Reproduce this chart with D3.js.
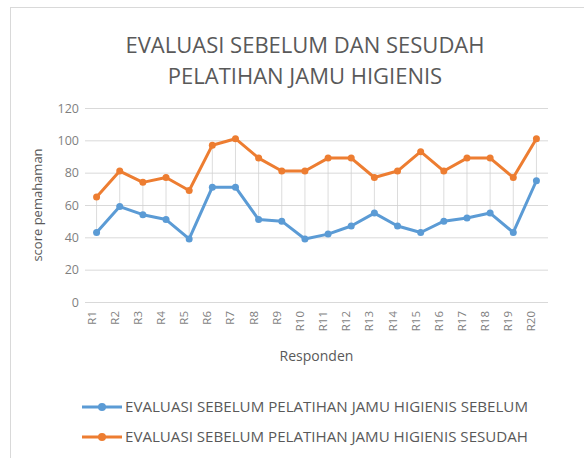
<!DOCTYPE html>
<html>
<head>
<meta charset="utf-8">
<script src="https://cdn.jsdelivr.net/npm/d3@7"></script>
<style>
  body { margin: 0; background: #fff; }
  svg text { font-family: "Open Sans", "Liberation Sans", sans-serif; fill: #595959; }
</style>
</head>
<body>
<div id="chart"></div>
<script>
// data
const categories = ['R1','R2','R3','R4','R5','R6','R7','R8','R9','R10',
                    'R11','R12','R13','R14','R15','R16','R17','R18','R19','R20'];
const sebelum = [43, 59, 54, 51, 39, 71, 71, 51, 50, 39, 42, 47, 55, 47, 43, 50, 52, 55, 43, 75];
const sesudah = [65, 81, 74, 77, 69, 97, 101, 89, 81, 81, 89, 89, 77, 81, 93, 81, 89, 89, 77, 101];
const yTicks = [0, 20, 40, 60, 80, 100, 120];
const seriesNames = [
  'EVALUASI SEBELUM PELATIHAN JAMU HIGIENIS SEBELUM',
  'EVALUASI SEBELUM PELATIHAN JAMU HIGIENIS SESUDAH'
];

const W = 584, H = 458;
const margin = { top: 108, right: 36, bottom: 156, left: 85 };
const width = W - margin.left - margin.right;
const height = H - margin.top - margin.bottom;
const colors = ['#5b9bd5', '#ed7d31'];

const svg = d3.select('#chart').append('svg')
  .attr('width', W)
  .attr('height', H);

// chart area border (right/bottom edges are cropped in the reference)
svg.append('rect')
  .attr('x', 10.5).attr('y', 7.5)
  .attr('width', 700).attr('height', 600)
  .attr('fill', 'none')
  .attr('stroke', '#d9d9d9');

// title
svg.append('text')
  .attr('x', 305).attr('y', 53)
  .attr('text-anchor', 'middle')
  .style('font-size', '22px')
  .text('EVALUASI SEBELUM DAN SESUDAH');
svg.append('text')
  .attr('x', 305).attr('y', 84)
  .attr('text-anchor', 'middle')
  .style('font-size', '22px')
  .text('PELATIHAN JAMU HIGIENIS');

const g = svg.append('g')
  .attr('transform', `translate(${margin.left},${margin.top})`);

const x = d3.scaleBand()
  .domain(categories)
  .range([0, width]);

const y = d3.scaleLinear()
  .domain([0, 120])
  .range([height, 0]);

// gridlines
g.append('g')
  .attr('class', 'grid')
  .call(d3.axisLeft(y).tickValues(yTicks).tickSize(-width).tickFormat(''))
  .call(s => s.select('.domain').remove())
  .call(s => s.selectAll('line').attr('stroke', '#d9d9d9'));

// y axis labels
g.append('g')
  .attr('class', 'y-axis')
  .call(d3.axisLeft(y).tickValues(yTicks).tickSize(0).tickPadding(6))
  .call(s => s.select('.domain').remove())
  .call(s => s.selectAll('text').style('font-size', '12.5px').style('fill', '#7f7f7f'));

// x axis labels (rotated)
g.append('g')
  .attr('class', 'x-axis')
  .attr('transform', `translate(0,${height})`)
  .call(d3.axisBottom(x).tickSize(0))
  .call(s => s.select('.domain').remove())
  .call(s => s.selectAll('text')
    .attr('transform', 'rotate(-90)')
    .attr('text-anchor', 'end')
    .attr('dx', '-9px')
    .attr('dy', '-0.35em')
    .style('font-size', '11.5px')
    .style('fill', '#7f7f7f'));

// axis titles
g.append('text')
  .attr('transform', 'rotate(-90)')
  .attr('x', -height / 2)
  .attr('y', -margin.left + 42)
  .attr('text-anchor', 'middle')
  .style('font-size', '13px')
  .text('score pemahaman');

g.append('text')
  .attr('x', width / 2)
  .attr('y', height + 59)
  .attr('text-anchor', 'middle')
  .style('font-size', '14px')
  .text('Responden');

const cx = d => x(d) + x.bandwidth() / 2;

// high-low lines
g.selectAll('.hilo')
  .data(categories)
  .enter().append('line')
  .attr('class', 'hilo')
  .attr('x1', d => cx(d)).attr('x2', d => cx(d))
  .attr('y1', (d, i) => y(sebelum[i]))
  .attr('y2', (d, i) => y(sesudah[i]))
  .attr('stroke', '#d0d0d0')
  .attr('stroke-width', 0.75);

const line = d3.line()
  .x((d, i) => cx(categories[i]))
  .y(d => y(d));

[sebelum, sesudah].forEach((vals, k) => {
  g.append('path')
    .datum(vals)
    .attr('fill', 'none')
    .attr('stroke', colors[k])
    .attr('stroke-width', 3)
    .attr('stroke-linejoin', 'round')
    .attr('d', line);
  g.selectAll('.dot' + k)
    .data(vals)
    .enter().append('circle')
    .attr('class', 'dot' + k)
    .attr('cx', (d, i) => cx(categories[i]))
    .attr('cy', d => y(d))
    .attr('r', 3.5)
    .attr('fill', colors[k]);
});

// legend
const legend = svg.append('g').attr('class', 'legend');
seriesNames.forEach((name, k) => {
  const ly = 407 + k * 30;
  legend.append('line')
    .attr('x1', 82).attr('x2', 122)
    .attr('y1', ly).attr('y2', ly)
    .attr('stroke', colors[k])
    .attr('stroke-width', 3);
  legend.append('circle')
    .attr('cx', 102).attr('cy', ly).attr('r', 4)
    .attr('fill', colors[k]);
  legend.append('text')
    .attr('x', 125).attr('y', ly + 5)
    .attr('textLength', 403)
    .attr('lengthAdjust', 'spacingAndGlyphs')
    .style('font-size', '14px')
    .text(name);
});
</script>
</body>
</html>
